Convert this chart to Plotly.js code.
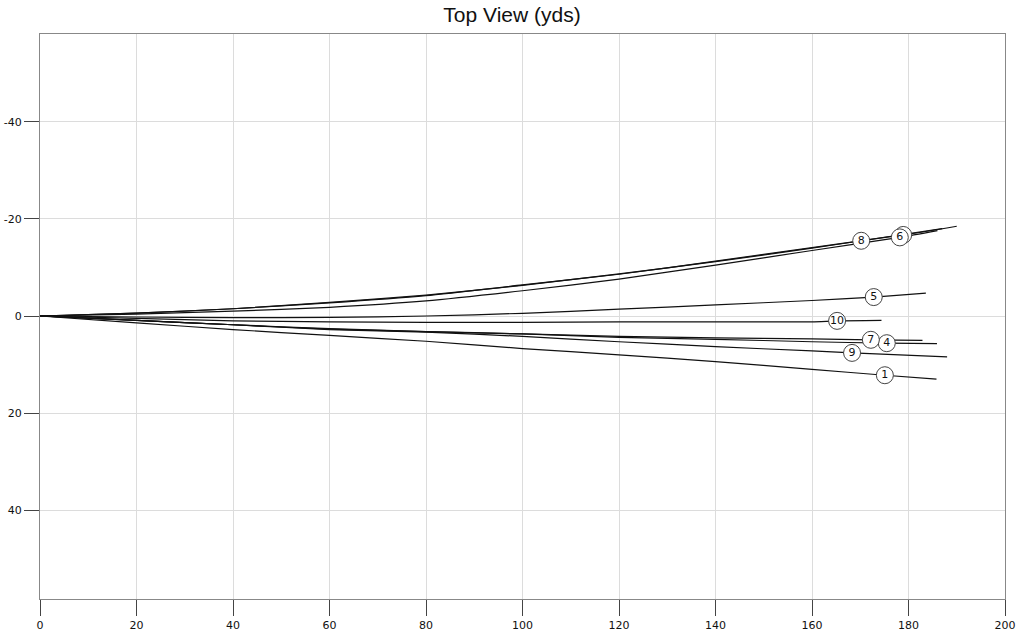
<!DOCTYPE html>
<html>
<head>
<meta charset="utf-8">
<script src="https://cdn.plot.ly/plotly-3.0.1.min.js"></script>
<style>html,body{margin:0;padding:0;background:#fff;}#chart{width:1024px;height:642px;}</style>
</head>
<body>
<div id="chart"></div>
<script>
// Shot numbers
var shotLabels = ["1", "2", "4", "5", "6", "7", "8", "9", "10"];
// Common downrange stations (yds) along each path
var stations = [0, 20, 40, 60, 80, 100, 120, 140, 160];
// Lateral offset (yds, negative = left) at each station
var shot1  = [0, 1.4, 2.8, 4.0, 5.2, 6.7, 8.0, 9.4, 11.0];
var shot2  = [0, -0.6, -1.5, -2.7, -4.2, -6.4, -8.6, -11.3, -14.1];
var shot4  = [0, 0.9, 1.8, 2.7, 3.2, 3.7, 4.4, 4.8, 5.3];
var shot5  = [0, 0.2, 0.35, 0.3, 0.0, -0.55, -1.4, -2.3, -3.2];
var shot6  = [0, -0.4, -1.0, -1.8, -3.1, -5.2, -7.6, -10.5, -13.5];
var shot7  = [0, 0.9, 1.8, 2.6, 3.2, 3.7, 4.2, 4.5, 4.7];
var shot8  = [0, -0.6, -1.5, -2.8, -4.3, -6.3, -8.7, -11.2, -14.0];
var shot9  = [0, 0.9, 1.8, 2.8, 3.3, 4.2, 5.3, 6.3, 7.2];
var shot10 = [0, 0.5, 1.0, 1.2, 1.3, 1.3, 1.2, 1.2, 1.2];
// Carry (labelled) point per shot
var carryX = [175.1, 178.9, 175.5, 172.8, 178.2, 172.2, 170.2, 168.3, 165.2];
var carryY = [12.2, -16.7, 5.6, -3.9, -16.2, 4.9, -15.5, 7.6, 1.0];
// Final resting point per shot
var endX = [185.8, 190.0, 185.9, 183.6, 186.0, 182.9, 187.0, 188.0, 174.4];
var endY = [13.0, -18.5, 5.7, -4.7, -17.6, 5.0, -18.0, 8.4, 0.9];
// X axis ticks / Y axis ticks
var xTicks = [0, 20, 40, 60, 80, 100, 120, 140, 160, 180, 200];
var yTicks = [-40, -20, 0, 20, 40];

var paths = [shot1, shot2, shot4, shot5, shot6, shot7, shot8, shot9, shot10];

var traces = [];
paths.forEach(function (p, i) {
  var pts = stations.map(function (x, k) { return [x, p[k]]; });
  pts.push([carryX[i], carryY[i]]);
  pts.push([endX[i], endY[i]]);
  pts.sort(function (a, b) { return a[0] - b[0]; });
  traces.push({
    type: 'scatter', mode: 'lines',
    x: pts.map(function (q) { return q[0]; }),
    y: pts.map(function (q) { return q[1]; }),
    line: { color: '#111', width: 1.2, shape: 'spline', smoothing: 0.6 },
    hoverinfo: 'skip', showlegend: false
  });
});
// label markers, drawn in order so that "6" covers "2"
var order = [1, 0, 2, 3, 5, 6, 7, 8, 4];
order.forEach(function (i) {
  traces.push({
    type: 'scatter', mode: 'markers+text',
    x: [carryX[i]], y: [carryY[i]], text: [shotLabels[i]],
    textposition: 'middle center',
    textfont: { family: 'DejaVu Sans, Verdana, sans-serif', size: 11, color: '#111' },
    marker: { size: 17, color: '#fff', line: { color: '#444', width: 1 } },
    hoverinfo: 'skip', showlegend: false, cliponaxis: false
  });
});

var layout = {
  width: 1024, height: 642,
  margin: { l: 40, r: 19, t: 34, b: 43 },
  paper_bgcolor: '#fff', plot_bgcolor: '#fff',
  title: {
    text: 'Top View (yds)', x: 0.5, xref: 'container', xanchor: 'center',
    y: 1 - 15 / 642, yref: 'container', yanchor: 'middle',
    font: { family: 'Liberation Sans, Arial, sans-serif', size: 21, color: '#111' }
  },
  xaxis: {
    range: [0, 200], tickvals: xTicks, ticktext: xTicks.map(String),
    showgrid: true, gridcolor: '#dcdcdc', gridwidth: 1,
    zeroline: false, showline: true, linecolor: '#888', linewidth: 1, mirror: true,
    ticks: 'outside', ticklen: 16, tickcolor: '#444', tickwidth: 1,
    tickfont: { family: 'DejaVu Sans, Verdana, sans-serif', size: 11, color: '#111' },
    fixedrange: true
  },
  yaxis: {
    range: [58.3, -58.1], tickvals: yTicks, ticktext: yTicks.map(String),
    showgrid: true, gridcolor: '#dcdcdc', gridwidth: 1,
    zeroline: false, showline: true, linecolor: '#888', linewidth: 1, mirror: true,
    ticks: 'outside', ticklen: 15, tickcolor: '#444', tickwidth: 1,
    tickfont: { family: 'DejaVu Sans, Verdana, sans-serif', size: 11, color: '#111' },
    fixedrange: true
  }
};

Plotly.newPlot('chart', traces, layout, { staticPlot: true, displayModeBar: false });
</script>
</body>
</html>
